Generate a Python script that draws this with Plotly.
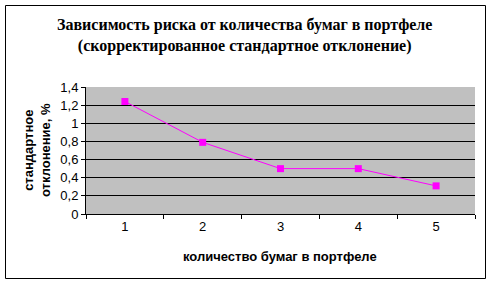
import plotly.graph_objects as go

categories = ["1", "2", "3", "4", "5"]
std_dev = [1.24, 0.79, 0.50, 0.50, 0.31]
title_lines = ["Зависимость риска от количества бумаг в портфеле",
               "(скорректированное стандартное отклонение)"]
x_title = "количество бумаг в портфеле"
y_title_lines = ["стандартное", "отклонение, %"]

L, R, T, B = 86, 16, 87, 70
W, H = 491, 284
pw, ph = W - L - R, H - T - B

def px_x(p):
    return (p - L) / pw

def px_y(p):
    return (H - B - p) / ph

fig = go.Figure()
fig.add_trace(go.Scatter(
    x=categories, y=std_dev, mode="lines+markers",
    line=dict(color="#ff00ff", width=1),
    marker=dict(symbol="square", size=7, color="#ff00ff"),
    showlegend=False,
))

fig.update_layout(
    width=W, height=H,
    margin=dict(l=L, r=R, t=T, b=B),
    paper_bgcolor="white",
    plot_bgcolor="#c0c0c0",
    separators=", ",
    font=dict(family="Liberation Sans, Arial", size=13, color="black"),
    xaxis=dict(
        type="category", range=[-0.5, len(categories) - 0.5],
        tickson="boundaries", ticks="outside", ticklen=4,
        tickcolor="black", showline=True, linecolor="black", linewidth=1,
        showgrid=False, tickfont=dict(size=13), zeroline=False,
    ),
    yaxis=dict(
        range=[0, 1.4], dtick=0.2, tick0=0, ticks="outside", ticklen=4,
        tickcolor="black", showline=True, linecolor="black", linewidth=1,
        showgrid=True, gridcolor="black", gridwidth=1, zeroline=False,
        tickfont=dict(size=13),
    ),
    shapes=[dict(
        type="rect", xref="paper", yref="paper",
        x0=px_x(5.5), x1=px_x(485.5), y0=px_y(278.5), y1=px_y(5.5),
        line=dict(color="black", width=1), fillcolor="rgba(0,0,0,0)", layer="below",
    )],
    annotations=[
        dict(text="<b>" + "<br>".join(title_lines) + "</b>",
             xref="paper", yref="paper", x=px_x(244), y=px_y(35),
             showarrow=False, xanchor="center", yanchor="middle",
             font=dict(family="Liberation Serif, Times New Roman", size=16),
             align="center"),
        dict(text="<b>" + x_title + "</b>",
             xref="paper", yref="paper", x=px_x(280), y=px_y(256),
             showarrow=False, xanchor="center", yanchor="middle",
             font=dict(size=13)),
        dict(text="<b>" + "<br>".join(y_title_lines) + "</b>",
             xref="paper", yref="paper", x=px_x(37), y=px_y(150),
             showarrow=False, xanchor="center", yanchor="middle",
             textangle=-90, font=dict(size=13), align="center"),
    ],
)

fig.write_html("out.html")
